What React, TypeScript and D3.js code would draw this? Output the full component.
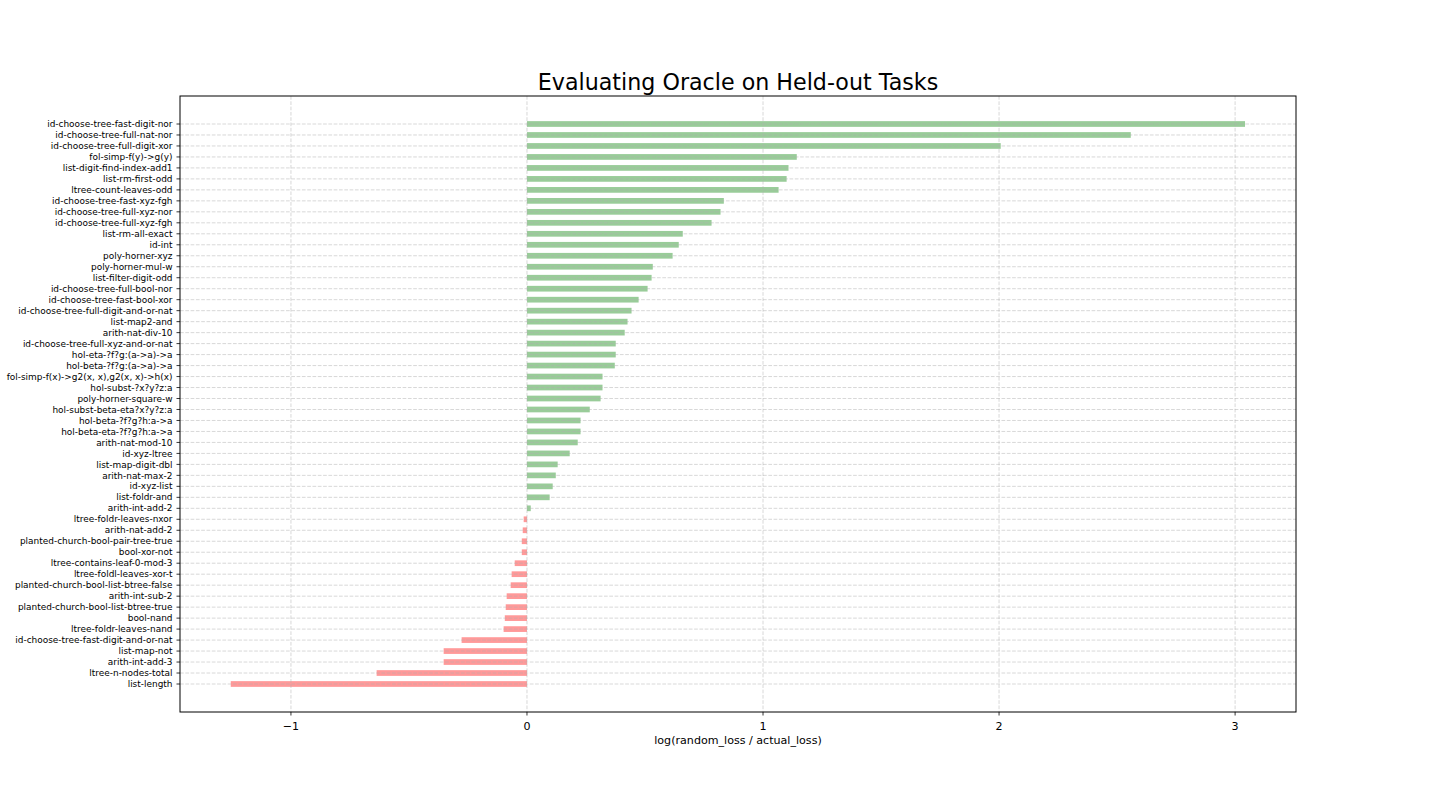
import React from "react";
import * as d3 from "d3";

const tasks: string[] = [
  "id-choose-tree-fast-digit-nor",
  "id-choose-tree-full-nat-nor",
  "id-choose-tree-full-digit-xor",
  "fol-simp-f(y)->g(y)",
  "list-digit-find-index-add1",
  "list-rm-first-odd",
  "ltree-count-leaves-odd",
  "id-choose-tree-fast-xyz-fgh",
  "id-choose-tree-full-xyz-nor",
  "id-choose-tree-full-xyz-fgh",
  "list-rm-all-exact",
  "id-int",
  "poly-horner-xyz",
  "poly-horner-mul-w",
  "list-filter-digit-odd",
  "id-choose-tree-full-bool-nor",
  "id-choose-tree-fast-bool-xor",
  "id-choose-tree-full-digit-and-or-nat",
  "list-map2-and",
  "arith-nat-div-10",
  "id-choose-tree-full-xyz-and-or-nat",
  "hol-eta-?f?g:(a->a)->a",
  "hol-beta-?f?g:(a->a)->a",
  "fol-simp-f(x)->g2(x, x),g2(x, x)->h(x)",
  "hol-subst-?x?y?z:a",
  "poly-horner-square-w",
  "hol-subst-beta-eta?x?y?z:a",
  "hol-beta-?f?g?h:a->a",
  "hol-beta-eta-?f?g?h:a->a",
  "arith-nat-mod-10",
  "id-xyz-ltree",
  "list-map-digit-dbl",
  "arith-nat-max-2",
  "id-xyz-list",
  "list-foldr-and",
  "arith-int-add-2",
  "ltree-foldr-leaves-nxor",
  "arith-nat-add-2",
  "planted-church-bool-pair-tree-true",
  "bool-xor-not",
  "ltree-contains-leaf-0-mod-3",
  "ltree-foldl-leaves-xor-t",
  "planted-church-bool-list-btree-false",
  "arith-int-sub-2",
  "planted-church-bool-list-btree-true",
  "bool-nand",
  "ltree-foldr-leaves-nand",
  "id-choose-tree-fast-digit-and-or-nat",
  "list-map-not",
  "arith-int-add-3",
  "ltree-n-nodes-total",
  "list-length",
];

const logRatio: number[] = [
  3.042, 2.558, 2.007, 1.143, 1.108, 1.1, 1.066, 0.834, 0.82, 0.782,
  0.66, 0.643, 0.617, 0.533, 0.528, 0.511, 0.473, 0.443, 0.426, 0.414,
  0.376, 0.376, 0.372, 0.32, 0.32, 0.312, 0.266, 0.227, 0.227, 0.215,
  0.181, 0.13, 0.122, 0.109, 0.096, 0.016, -0.014, -0.018, -0.022, -0.022,
  -0.052, -0.065, -0.069, -0.086, -0.09, -0.094, -0.099, -0.277, -0.353, -0.353,
  -0.637, -1.255,
];

const xTicks: number[] = [-1, 0, 1, 2, 3];

const W = 1440;
const H = 800;
const left = 180;
const right = 1296;
const top = 96;
const bottom = 712;
const FONT = "DejaVu Sans, sans-serif";

export default function App() {
  const x = d3.scaleLinear().domain([-1.47, 3.258]).range([left, right]);
  const n = tasks.length;
  const y = d3.scaleLinear().domain([-2.55, n - 1 + 2.55]).range([top, bottom]);
  const barH = y(0.52) - y(0);
  const gridStyle = { stroke: "#b0b0b0", strokeOpacity: 0.55, strokeWidth: 0.9, strokeDasharray: "3.7,1.6" };

  return (
    <svg width={W} height={H} style={{ display: "block", position: "absolute", left: 0, top: 0 }} fontFamily={FONT}>
      <rect x={0} y={0} width={W} height={H} fill="#ffffff" />
      <g>
        {logRatio.map((v, i) => (
          <rect
            key={tasks[i]}
            x={x(Math.min(0, v))}
            y={y(i) - barH / 2}
            width={Math.abs(x(v) - x(0))}
            height={barH}
            fill={v >= 0 ? "#99cc99" : "#ff9999"}
          />
        ))}
      </g>
      <g>
        {xTicks.map((t) => (
          <line key={"gx" + t} x1={x(t)} x2={x(t)} y1={top} y2={bottom} {...gridStyle} />
        ))}
        {tasks.map((t, i) => (
          <line key={"gy" + t} x1={left} x2={right} y1={y(i)} y2={y(i)} {...gridStyle} />
        ))}
      </g>
      <rect x={left} y={top} width={right - left} height={bottom - top} fill="none" stroke="#000" strokeWidth={1} />
      <g>
        {tasks.map((t, i) => (
          <g key={"yt" + t}>
            <line x1={left - 3.5} x2={left} y1={y(i)} y2={y(i)} stroke="#000" strokeWidth={0.8} />
            <text x={left - 7.5} y={y(i)} dy="0.35em" textAnchor="end" fontSize={8.95} fill="#000">
              {t}
            </text>
          </g>
        ))}
      </g>
      <g>
        {xTicks.map((t) => (
          <g key={"xt" + t}>
            <line x1={x(t)} x2={x(t)} y1={bottom} y2={bottom + 3.5} stroke="#000" strokeWidth={0.8} />
            <text x={x(t)} y={bottom + 17.5} textAnchor="middle" fontSize={11.1} fill="#000">
              {t < 0 ? "\u2212" + Math.abs(t) : String(t)}
            </text>
          </g>
        ))}
      </g>
      <text x={(left + right) / 2} y={744} textAnchor="middle" fontSize={11.1} fill="#000">
        log(random_loss / actual_loss)
      </text>
      <text x={(left + right) / 2} y={90} textAnchor="middle" fontSize={22.2} fill="#000">
        Evaluating Oracle on Held-out Tasks
      </text>
    </svg>
  );
}
